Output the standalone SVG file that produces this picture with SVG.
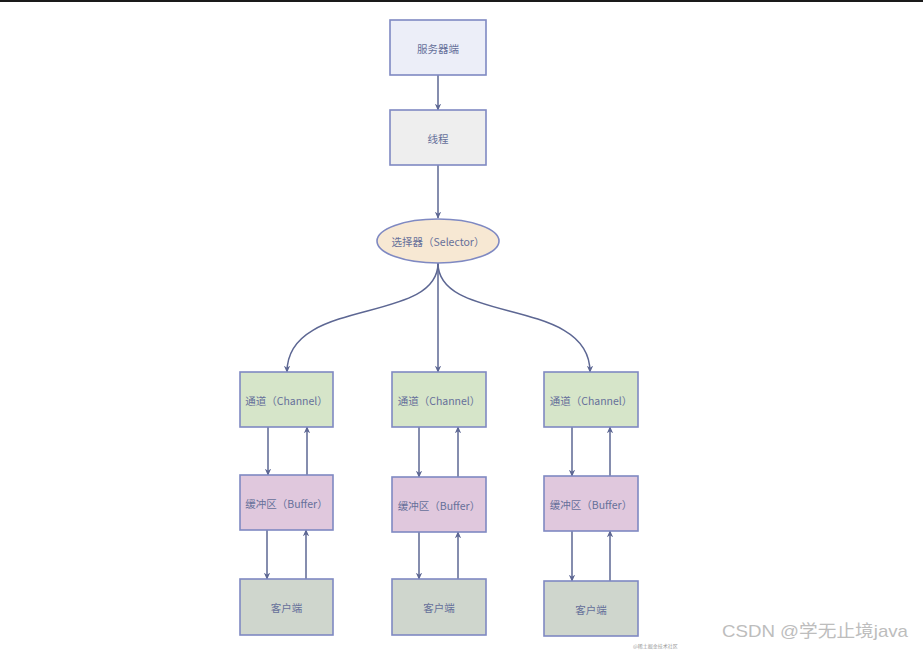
<svg xmlns="http://www.w3.org/2000/svg" width="923" height="650" viewBox="0 0 923 650">
<style>
.n{stroke:#7f89c2;stroke-width:1.6}
.t{font-family:"Noto Sans CJK SC","Noto Sans",sans-serif;font-size:10.5px;fill:#66709a;text-anchor:middle;dominant-baseline:central}
.e{fill:none;stroke:#5d6793;stroke-width:1.5}
.srv{fill:#eceef8}.thr{fill:#eeeeee}.sel{fill:#f7e8d3}.ch{fill:#d6e5c9}.buf{fill:#e0c8dd}.cli{fill:#cfd6cd}
</style>
<defs>
<marker id="a" viewBox="0 0 10 10" refX="9" refY="5" markerWidth="7" markerHeight="7" markerUnits="userSpaceOnUse" orient="auto">
<path d="M0,0.5 L10,5 L0,9.5 L3,5 Z" fill="#5d6793"/>
</marker>
</defs>
<rect width="923" height="650" fill="#ffffff"/>
<line x1="0" y1="1" x2="923" y2="1" stroke="#1a1a1a" stroke-width="2"/>
<g id="connectors">
<path class="e" d="M438,75 V110" marker-end="url(#a)"/>
<path class="e" d="M438,165 V218" marker-end="url(#a)"/>
<path class="e" d="M438,263 C438,325 287,296 287,372" marker-end="url(#a)"/>
<path class="e" d="M438,263 V372" marker-end="url(#a)"/>
<path class="e" d="M438,263 C438,325 590,296 590,372" marker-end="url(#a)"/>
<path class="e" d="M268,427 V475" marker-end="url(#a)"/>
<path class="e" d="M307,475 V427" marker-end="url(#a)"/>
<path class="e" d="M267,530 V579" marker-end="url(#a)"/>
<path class="e" d="M306,579 V530" marker-end="url(#a)"/>
<path class="e" d="M419,427 V477" marker-end="url(#a)"/>
<path class="e" d="M458,477 V427" marker-end="url(#a)"/>
<path class="e" d="M419,532 V579" marker-end="url(#a)"/>
<path class="e" d="M458,579 V532" marker-end="url(#a)"/>
<path class="e" d="M572,427 V476" marker-end="url(#a)"/>
<path class="e" d="M610,476 V427" marker-end="url(#a)"/>
<path class="e" d="M572,531 V581" marker-end="url(#a)"/>
<path class="e" d="M610,581 V531" marker-end="url(#a)"/>
</g>
<g id="server"><rect class="n srv" x="390" y="20" width="96" height="55"/><text class="t" x="438" y="48">服务器端</text></g>
<g id="thread"><rect class="n thr" x="390" y="110" width="96" height="55"/><text class="t" x="438" y="138">线程</text></g>
<g id="selector"><ellipse class="n sel" cx="438" cy="241" rx="61" ry="22"/><text class="t" x="438" y="241">选择器（Selector）</text></g>
<g id="channel1"><rect class="n ch" x="240" y="372" width="93" height="55"/><text class="t" x="286.5" y="400">通道（Channel）</text></g>
<g id="channel2"><rect class="n ch" x="392" y="372" width="94" height="55"/><text class="t" x="439" y="400">通道（Channel）</text></g>
<g id="channel3"><rect class="n ch" x="544" y="372" width="94" height="55"/><text class="t" x="591" y="400">通道（Channel）</text></g>
<g id="buffer1"><rect class="n buf" x="240" y="475" width="93" height="55"/><text class="t" x="286.5" y="503">缓冲区（Buffer）</text></g>
<g id="buffer2"><rect class="n buf" x="392" y="477" width="94" height="55"/><text class="t" x="439" y="505">缓冲区（Buffer）</text></g>
<g id="buffer3"><rect class="n buf" x="544" y="476" width="94" height="55"/><text class="t" x="591" y="504">缓冲区（Buffer）</text></g>
<g id="client1"><rect class="n cli" x="240" y="579" width="93" height="56"/><text class="t" x="286.5" y="607">客户端</text></g>
<g id="client2"><rect class="n cli" x="392" y="579" width="94" height="56"/><text class="t" x="439" y="607">客户端</text></g>
<g id="client3"><rect class="n cli" x="544" y="581" width="94" height="55"/><text class="t" x="591" y="609">客户端</text></g>
<text x="633" y="648" font-family="Noto Sans CJK SC,sans-serif" font-size="5" fill="#999999">@稀土掘金技术社区</text>
<text x="722" y="637" font-family="Liberation Sans,Noto Sans CJK SC,sans-serif" font-size="17" fill="#bdbdbd" textLength="186" lengthAdjust="spacingAndGlyphs">CSDN @学无止境java</text>
</svg>
